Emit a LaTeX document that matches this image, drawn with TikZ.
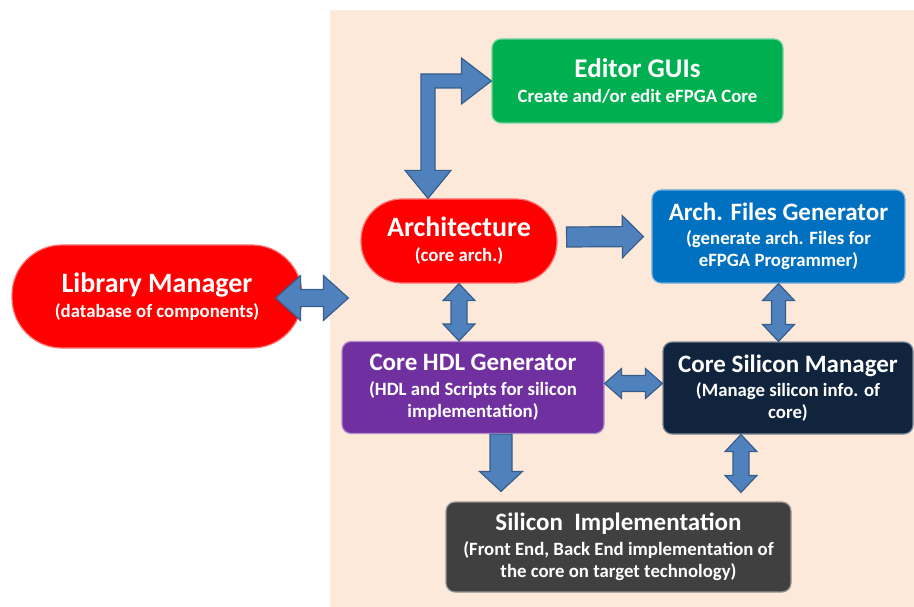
\documentclass[tikz,border=0pt]{standalone}
\usepackage{fontspec}
\setmainfont{Carlito}
\usepackage{tikz}
\usetikzlibrary{calc}
\definecolor{panelbg}{RGB}{253,233,217}
\definecolor{guigreen}{RGB}{0,176,80}
\definecolor{archred}{RGB}{255,0,0}
\definecolor{filesblue}{RGB}{0,112,192}
\definecolor{hdlpurple}{RGB}{112,48,160}
\definecolor{siliconnavy}{RGB}{17,36,62}
\definecolor{implgray}{RGB}{64,64,64}
\definecolor{arrowfill}{RGB}{79,129,189}
\definecolor{arrowedge}{RGB}{56,93,138}
\newcommand{\ttl}{\fontsize{25}{30}\selectfont}
\newcommand{\bigttl}{\fontsize{28}{32}\selectfont}
\newcommand{\sbt}{\fontsize{18.8}{22}\selectfont}

\begin{document}
\begin{tikzpicture}[
  x=1pt,y=-1pt,
  font=\bfseries\sbt,
  box/.style={rounded corners=9pt,draw=#1!55!white,fill=#1,line width=1.2pt,
    text=white,align=center,inner sep=0pt},
  pill/.style={box=#1,rounded corners=41pt},
  blockarrow/.style={fill=arrowfill,draw=arrowedge,line width=1.2pt,line join=miter},
  % single block arrow: shaft half width / head half width / head length
  fatarrow/.style n args={3}{blockarrow,to path={
    let \p1=(\tikztostart),\p2=(\tikztotarget),
        \n1={atan2(\y2-\y1,\x2-\x1)},\n2={veclen(\x2-\x1,\y2-\y1)} in
    ($(\p1)+(\n1+90:#1pt)$)
    -- ($(\p1)+(\n1:{(\n2-#3)*1pt})+(\n1+90:#1pt)$)
    -- ($(\p1)+(\n1:{(\n2-#3)*1pt})+(\n1+90:#2pt)$)
    -- (\p2)
    -- ($(\p1)+(\n1:{(\n2-#3)*1pt})+(\n1-90:#2pt)$)
    -- ($(\p1)+(\n1:{(\n2-#3)*1pt})+(\n1-90:#1pt)$)
    -- ($(\p1)+(\n1-90:#1pt)$) -- cycle}},
  % double block arrow, same arguments
  dblarrow/.style n args={3}{blockarrow,to path={
    let \p1=(\tikztostart),\p2=(\tikztotarget),
        \n1={atan2(\y2-\y1,\x2-\x1)},\n2={veclen(\x2-\x1,\y2-\y1)} in
    (\p1)
    -- ($(\p1)+(\n1:#3pt)+(\n1+90:#2pt)$)
    -- ($(\p1)+(\n1:#3pt)+(\n1+90:#1pt)$)
    -- ($(\p1)+(\n1:{(\n2-#3)*1pt})+(\n1+90:#1pt)$)
    -- ($(\p1)+(\n1:{(\n2-#3)*1pt})+(\n1+90:#2pt)$)
    -- (\p2)
    -- ($(\p1)+(\n1:{(\n2-#3)*1pt})+(\n1-90:#2pt)$)
    -- ($(\p1)+(\n1:{(\n2-#3)*1pt})+(\n1-90:#1pt)$)
    -- ($(\p1)+(\n1:#3pt)+(\n1-90:#1pt)$)
    -- ($(\p1)+(\n1:#3pt)+(\n1-90:#2pt)$) -- cycle}}
]
\useasboundingbox (0,0) rectangle (914,607);

% -------------------------------------------------------------------------
% background panel
% -------------------------------------------------------------------------
\fill[panelbg] (330,10) rectangle (914,607);

% -------------------------------------------------------------------------
% blocks
% -------------------------------------------------------------------------
\node[box=guigreen,minimum width=291,minimum height=84] (edit) at (637.5,81)
  {{\fontsize{27}{30}\selectfont Editor GUIs}\\[3pt]Create and/or edit eFPGA Core};
\node[pill=archred,minimum width=196,minimum height=84] (arch) at (459,241)
  {{\bigttl Architecture}\\[3pt](core arch.)};
\node[box=filesblue,minimum width=253,minimum height=93] (files) at (778.5,236.5)
  {{\ttl Arch. Files Generator}\\[2.5pt](generate arch. Files for\\eFPGA Programmer)};
\node[pill=archred,rounded corners=50pt,minimum width=290,minimum height=103] (lib)
  at (157,296.5) {{\bigttl Library Manager}\\[3pt](database of components)};
\node[box=hdlpurple,minimum width=262,minimum height=92] (hdl) at (473,387.5)
  {{\ttl Core HDL Generator}\\[2.5pt](HDL and Scripts for silicon\\implementation)};
\node[box=siliconnavy,minimum width=250,minimum height=92] (csm) at (788,388)
  {{\ttl Core Silicon Manager}\\[2.5pt](Manage silicon info. of\\core)};
\node[box=implgray,minimum width=345,minimum height=90] (sil) at (618.5,547)
  {{\ttl Silicon\ \ Implementation}\\[2.5pt](Front End, Back End implementation of\\the core on target technology)};

% -------------------------------------------------------------------------
% block arrows
% -------------------------------------------------------------------------
\coordinate (ae) at ($(arch.north)+(-31,0)$);
\draw[blockarrow] let \p1=(ae),\p2=(edit.west) in
  (\p1) -- (\x1+23pt,\y1+28pt) -- (\x1+7pt,\y1+28pt) -- (\x1+7pt,\y2-7pt)
  -- (\x2-30pt,\y2-7pt) -- (\x2-30pt,\y2-23pt) -- (\p2) -- (\x2-30pt,\y2+23pt)
  -- (\x2-30pt,\y2+7pt) -- (\x1-7pt,\y2+7pt) -- (\x1-7pt,\y1+28pt)
  -- (\x1-23pt,\y1+28pt) -- cycle;
\draw[fatarrow={10}{21}{21}] ($(arch.east)+(9,-4)$) to ($(files.west)+(-8,0)$);
\draw[dblarrow={8.5}{22.5}{25}] ($(lib.east)+(-27,1.5)$) to ($(arch.west)+(-12,57)$);
\draw[dblarrow={8}{16}{17}] (arch.south) to (arch.south |- hdl.north);
\draw[dblarrow={8}{15}{17}] ($(hdl.east)+(0,-4)$) to ($(hdl.east -| csm.west)+(0,-4)$);
\draw[dblarrow={7}{16}{17}] (files.south) to (files.south |- csm.north);
\coordinate (hs) at ($(hdl.south)+(28,0)$);
\draw[fatarrow={11}{21.5}{20}] (hs) to ($(hs |- sil.north)+(0,-10)$);
\coordinate (cs) at ($(csm.south)+(-47,0)$);
\draw[dblarrow={8}{16}{17}] (cs) to ($(cs |- sil.north)+(0,-9)$);
\end{tikzpicture}
\end{document}
